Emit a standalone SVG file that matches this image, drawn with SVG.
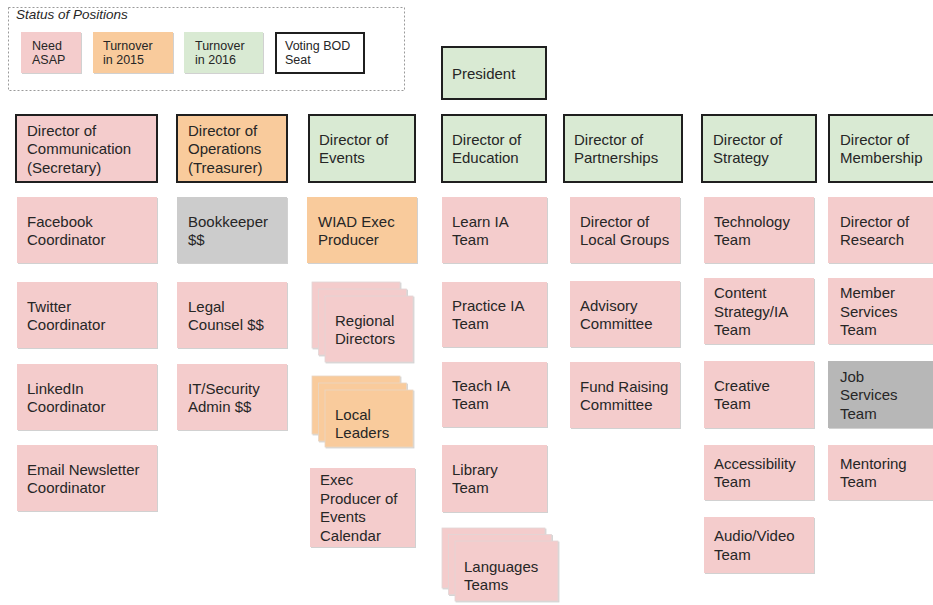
<svg xmlns="http://www.w3.org/2000/svg" width="933" height="605" viewBox="0 0 933 605">
<defs>
<filter id="sh" x="-5%" y="-5%" width="115%" height="115%">
<feDropShadow dx="1" dy="1" stdDeviation="0.6" flood-color="#999" flood-opacity="0.45"/>
</filter>
</defs>
<style>
text{font-family:"Liberation Sans",Arial,sans-serif;font-size:15px;fill:#262626}
.lg text{font-size:12.5px}
.pink{fill:#f4cccc}
.orange{fill:#f9cb9c}
.green{fill:#d9ead3}
.gray{fill:#cccccc}
.dgray{fill:#b7b7b7}
.sub{filter:url(#sh)}
.dir{stroke:#1f1f1f;stroke-width:2}
.sheet{stroke:#e2d6d6;stroke-width:0.8;filter:url(#sh)}
.osheet{stroke:#e8d6c6;stroke-width:0.8;filter:url(#sh)}
</style>
<rect width="933" height="605" fill="#ffffff"/>

<g id="legend" class="lg">
<rect x="8.5" y="7.5" width="396" height="83" fill="none" stroke="#9a9a9a" stroke-width="1" stroke-dasharray="2,2"/>
<text x="16" y="19" style="font-size:13.5px;font-style:italic">Status of Positions</text>
<rect class="pink sub" x="21" y="32" width="60" height="41"/>
<text x="32" y="50.3">Need</text><text x="32" y="63.8">ASAP</text>
<rect class="orange sub" x="93" y="32" width="80" height="41"/>
<text x="103" y="50.3">Turnover</text><text x="103" y="63.8">in 2015</text>
<rect class="green sub" x="184" y="32" width="79" height="41"/>
<text x="195" y="50.3">Turnover</text><text x="195" y="63.8">in 2016</text>
<rect x="276" y="33" width="88" height="40" fill="#ffffff" stroke="#1f1f1f" stroke-width="2"/>
<text x="285" y="50.3">Voting BOD</text><text x="285" y="63.8">Seat</text>
</g>

<g id="connectors"></g>

<g id="president"><rect class="green dir" x="442" y="47" width="104" height="52"/><text x="452" y="78.5">President</text></g>

<g id="dir-communication"><rect class="pink dir" x="16" y="115" width="141" height="67"/><text x="27" y="135.5">Director of</text><text x="27" y="154">Communication</text><text x="27" y="172.5">(Secretary)</text></g>
<g id="dir-operations"><rect class="orange dir" x="177" y="115" width="110" height="67"/><text x="188" y="135.5">Director of</text><text x="188" y="154">Operations</text><text x="188" y="172.5">(Treasurer)</text></g>
<g id="dir-events"><rect class="green dir" x="309" y="115" width="106" height="67"/><text x="319" y="144.5">Director of</text><text x="319" y="163">Events</text></g>
<g id="dir-education"><rect class="green dir" x="442" y="115" width="104" height="67"/><text x="452" y="144.5">Director of</text><text x="452" y="163">Education</text></g>
<g id="dir-partnerships"><rect class="green dir" x="564" y="115" width="118" height="67"/><text x="574" y="144.5">Director of</text><text x="574" y="163">Partnerships</text></g>
<g id="dir-strategy"><rect class="green dir" x="702" y="115" width="114" height="67"/><text x="713" y="144.5">Director of</text><text x="713" y="163">Strategy</text></g>
<g id="dir-membership"><rect class="green dir" x="829" y="115" width="120" height="67"/><text x="840" y="144.5">Director of</text><text x="840" y="163">Membership</text></g>

<g id="facebook"><rect class="pink sub" x="17" y="197" width="140" height="66"/><text x="27" y="226.5">Facebook</text><text x="27" y="245">Coordinator</text></g>
<g id="twitter"><rect class="pink sub" x="17" y="282" width="140" height="66"/><text x="27" y="311.5">Twitter</text><text x="27" y="330">Coordinator</text></g>
<g id="linkedin"><rect class="pink sub" x="17" y="364" width="140" height="66"/><text x="27" y="393.5">LinkedIn</text><text x="27" y="412">Coordinator</text></g>
<g id="email"><rect class="pink sub" x="17" y="445" width="140" height="66"/><text x="27" y="474.5">Email Newsletter</text><text x="27" y="493">Coordinator</text></g>

<g id="bookkeeper"><rect class="gray sub" x="177" y="197" width="110" height="66"/><text x="188" y="226.5">Bookkeeper</text><text x="188" y="245">$$</text></g>
<g id="legal"><rect class="pink sub" x="177" y="282" width="110" height="66"/><text x="188" y="311.5">Legal</text><text x="188" y="330">Counsel $$</text></g>
<g id="itsecurity"><rect class="pink sub" x="177" y="364" width="110" height="66"/><text x="188" y="393.5">IT/Security</text><text x="188" y="412">Admin $$</text></g>

<g id="wiad"><rect class="orange sub" x="307" y="197" width="110" height="66"/><text x="318" y="226.5">WIAD Exec</text><text x="318" y="245">Producer</text></g>
<g id="regional">
<rect class="pink sheet" x="312" y="282" width="88" height="66"/>
<rect class="pink sheet" x="318.5" y="289" width="88" height="66"/>
<rect class="pink sheet" x="325" y="296" width="88" height="66"/>
<text x="335" y="325.5">Regional</text><text x="335" y="344">Directors</text></g>
<g id="local">
<rect class="orange osheet" x="312" y="376" width="88" height="58"/>
<rect class="orange osheet" x="318.5" y="383" width="88" height="58"/>
<rect class="orange osheet" x="325" y="390" width="88" height="57"/>
<text x="335" y="419.5">Local</text><text x="335" y="438">Leaders</text></g>
<g id="calendar"><rect class="pink sub" x="310" y="468" width="105" height="79"/><text x="320" y="485">Exec</text><text x="320" y="503.5">Producer of</text><text x="320" y="522">Events</text><text x="320" y="540.5">Calendar</text></g>

<g id="learn"><rect class="pink sub" x="442" y="197" width="105" height="66"/><text x="452" y="226.5">Learn IA</text><text x="452" y="245">Team</text></g>
<g id="practice"><rect class="pink sub" x="442" y="282" width="105" height="65"/><text x="452" y="310.5">Practice IA</text><text x="452" y="329">Team</text></g>
<g id="teach"><rect class="pink sub" x="442" y="362" width="105" height="65"/><text x="452" y="390.5">Teach IA</text><text x="452" y="409">Team</text></g>
<g id="library"><rect class="pink sub" x="442" y="445" width="105" height="67"/><text x="452" y="474.5">Library</text><text x="452" y="493">Team</text></g>
<g id="languages">
<rect class="pink sheet" x="442" y="528" width="103" height="60"/>
<rect class="pink sheet" x="448.5" y="534.5" width="103" height="60"/>
<rect class="pink sheet" x="455" y="541" width="103" height="60"/>
<text x="464" y="571.5">Languages</text><text x="464" y="590">Teams</text></g>

<g id="localgroups"><rect class="pink sub" x="570" y="197" width="110" height="66"/><text x="580" y="226.5">Director of</text><text x="580" y="245">Local Groups</text></g>
<g id="advisory"><rect class="pink sub" x="570" y="281" width="110" height="66"/><text x="580" y="310.5">Advisory</text><text x="580" y="329">Committee</text></g>
<g id="fundraising"><rect class="pink sub" x="570" y="362" width="110" height="66"/><text x="580" y="391.5">Fund Raising</text><text x="580" y="410">Committee</text></g>

<g id="technology"><rect class="pink sub" x="704" y="197" width="110" height="66"/><text x="714" y="226.5">Technology</text><text x="714" y="245">Team</text></g>
<g id="content"><rect class="pink sub" x="704" y="278" width="110" height="66"/><text x="714" y="298">Content</text><text x="714" y="316.5">Strategy/IA</text><text x="714" y="335">Team</text></g>
<g id="creative"><rect class="pink sub" x="704" y="361" width="110" height="67"/><text x="714" y="390.5">Creative</text><text x="714" y="409">Team</text></g>
<g id="accessibility"><rect class="pink sub" x="704" y="445" width="110" height="55"/><text x="714" y="468.5">Accessibility</text><text x="714" y="487">Team</text></g>
<g id="audiovideo"><rect class="pink sub" x="704" y="517" width="110" height="56"/><text x="714" y="541">Audio/Video</text><text x="714" y="559.5">Team</text></g>

<g id="research"><rect class="pink sub" x="828" y="197" width="120" height="66"/><text x="840" y="226.5">Director of</text><text x="840" y="245">Research</text></g>
<g id="memberservices"><rect class="pink sub" x="828" y="278" width="120" height="66"/><text x="840" y="298">Member</text><text x="840" y="316.5">Services</text><text x="840" y="335">Team</text></g>
<g id="jobservices"><rect class="dgray sub" x="828" y="361" width="120" height="67"/><text x="840" y="381.5">Job</text><text x="840" y="400">Services</text><text x="840" y="418.5">Team</text></g>
<g id="mentoring"><rect class="pink sub" x="828" y="445" width="120" height="55"/><text x="840" y="468.5">Mentoring</text><text x="840" y="487">Team</text></g>
</svg>
